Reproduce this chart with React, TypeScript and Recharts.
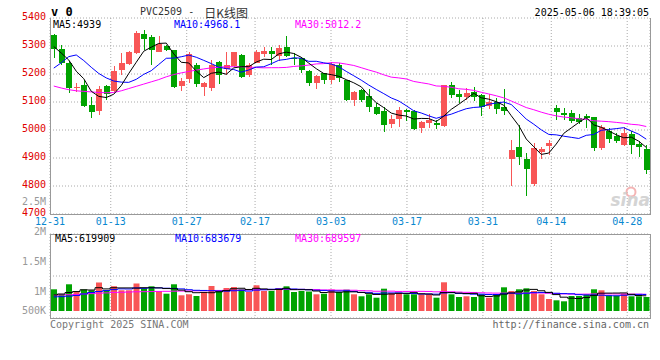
import React from 'react';
import { ComposedChart, Bar, Line, XAxis, YAxis, CartesianGrid, Cell } from 'recharts';

// daily candles, 12-31 .. 05-06 (80 sessions)
const open = [5340, 5289, 5239, 5150, 5161, 5089, 5069, 5157, 5141, 5215, 5235, 5275, 5344, 5332, 5280, 5301, 5286, 5157, 5182, 5233, 5155, 5149, 5242, 5217, 5227, 5268, 5197, 5241, 5271, 5283, 5265, 5298, 5258, 5257, 5212, 5167, 5203, 5179, 5233, 5179, 5107, 5143, 5122, 5081, 5068, 5021, 5039, 5071, 5068, 5008, 5026, 5026, 5014, 5161, 5129, 5119, 5137, 5125, 5086, 5101, 5081, 4898, 4940, 4898, 4806, 4922, 4942, 5078, 5062, 5060, 5042, 5050, 5045, 4934, 4997, 4979, 4946, 4985, 4950, 4932];
const high = [5342, 5304, 5245, 5169, 5179, 5117, 5157, 5159, 5227, 5275, 5283, 5352, 5358, 5340, 5334, 5305, 5287, 5185, 5277, 5241, 5170, 5251, 5245, 5277, 5280, 5270, 5240, 5285, 5298, 5298, 5304, 5337, 5275, 5262, 5215, 5196, 5205, 5242, 5240, 5180, 5140, 5145, 5146, 5097, 5081, 5053, 5081, 5074, 5070, 5032, 5056, 5036, 5162, 5173, 5143, 5149, 5155, 5128, 5129, 5113, 5147, 4966, 5018, 4918, 4952, 4940, 4966, 5089, 5078, 5071, 5056, 5057, 5047, 5018, 5006, 4988, 5011, 4996, 4961, 4946];
const low = [5257, 5233, 5133, 5137, 5081, 5044, 5053, 5107, 5137, 5197, 5233, 5272, 5286, 5233, 5279, 5283, 5149, 5141, 5167, 5155, 5122, 5140, 5164, 5197, 5225, 5185, 5190, 5238, 5260, 5233, 5245, 5262, 5233, 5205, 5157, 5147, 5165, 5165, 5172, 5102, 5086, 5101, 5065, 5053, 4994, 5006, 5011, 5033, 5000, 4988, 5008, 5002, 5009, 5113, 5097, 5107, 5105, 5050, 5074, 5056, 5053, 4800, 4874, 4764, 4800, 4898, 4912, 5036, 5036, 5024, 5020, 5006, 4925, 4930, 4952, 4954, 4944, 4916, 4904, 4842];
const close = [5289, 5239, 5149, 5153, 5086, 5065, 5147, 5129, 5212, 5241, 5280, 5348, 5326, 5284, 5308, 5286, 5155, 5176, 5272, 5163, 5169, 5233, 5197, 5233, 5277, 5191, 5233, 5280, 5283, 5271, 5292, 5265, 5255, 5215, 5167, 5193, 5179, 5235, 5185, 5107, 5137, 5107, 5081, 5057, 5018, 5039, 5071, 5065, 5003, 5029, 5036, 5018, 5161, 5125, 5119, 5133, 5117, 5081, 5101, 5074, 5069, 4930, 4904, 4862, 4936, 4932, 4954, 5065, 5053, 5033, 5029, 5042, 4934, 5011, 4967, 4961, 4988, 4946, 4938, 4856];

const ma5 = [5298, 5275, 5250, 5210, 5183.2, 5138.4, 5120, 5116, 5127.8, 5158.8, 5201.8, 5242, 5281.4, 5295.8, 5309.2, 5310.4, 5271.8, 5241.8, 5239.4, 5210.4, 5187, 5202.6, 5206.8, 5199, 5221.8, 5226.2, 5226.2, 5242.8, 5252.8, 5251.6, 5271.8, 5278.2, 5273.2, 5259.6, 5238.8, 5219, 5201.8, 5197.8, 5191.8, 5179.8, 5168.6, 5154.2, 5123.4, 5097.8, 5080, 5060.4, 5053.2, 5050, 5039.2, 5041.4, 5040.8, 5030.2, 5049.4, 5073.8, 5091.8, 5111.2, 5131, 5115, 5110.2, 5101.2, 5088.4, 5051, 5015.6, 4967.8, 4940.2, 4912.8, 4917.6, 4949.8, 4988, 5007.4, 5026.8, 5044.4, 5018.2, 5009.8, 4996.6, 4983, 4972.2, 4974.6, 4960, 4937.8];
const ma10 = [5221, 5240, 5262, 5268, 5248, 5224, 5202, 5186, 5175, 5171, 5170.1, 5181, 5198.7, 5211.8, 5234, 5256.1, 5256.9, 5261.6, 5267.6, 5259.8, 5248.7, 5237.2, 5224.3, 5219.2, 5216.1, 5206.6, 5214.4, 5224.8, 5225.9, 5236.7, 5249, 5252.2, 5258, 5256.2, 5245.2, 5245.4, 5240, 5235.5, 5225.7, 5209.3, 5193.8, 5178, 5160.6, 5144.8, 5129.9, 5114.5, 5103.7, 5086.7, 5068.5, 5060.7, 5050.6, 5041.7, 5049.7, 5056.5, 5066.6, 5076, 5080.6, 5082.2, 5092, 5096.5, 5099.8, 5091, 5065.3, 5039, 5020.7, 5000.6, 4984.3, 4982.7, 4977.9, 4973.8, 4969.8, 4981, 4984, 4998.9, 5002, 5004.9, 5008.3, 4996.4, 4984.9, 4967.2];
const ma30 = [5157, 5150, 5144, 5140, 5138, 5136, 5134, 5133, 5134, 5140, 5148, 5156, 5164, 5172, 5180, 5190, 5198, 5204, 5209, 5214, 5218, 5222, 5224, 5226, 5226, 5226, 5225, 5223, 5222, 5222.5, 5222.6, 5223.5, 5227, 5229.1, 5231.8, 5236, 5237.1, 5240.6, 5239.7, 5235.3, 5230.5, 5222.5, 5214.3, 5206.7, 5197.1, 5188.8, 5186, 5182.3, 5173.4, 5168.9, 5164.5, 5157.3, 5156.1, 5152.5, 5147.2, 5145.3, 5141.4, 5134.8, 5128.7, 5122.2, 5114.7, 5103.6, 5091.9, 5080.1, 5072.4, 5063.7, 5056.2, 5050.5, 5046.1, 5043.7, 5040.1, 5037.9, 5033, 5031.5, 5029.8, 5027.2, 5024.4, 5020.4, 5018.3, 5012.5];

// volume in thousands of lots
const volumeK = [893, 700, 1099, 782, 885, 852, 1173, 852, 1021, 852, 852, 1132, 934, 1016, 823, 712, 1099, 646, 687, 617, 782, 1029, 823, 946, 988, 893, 782, 1058, 823, 823, 946, 1016, 782, 823, 802, 687, 712, 877, 782, 877, 687, 605, 687, 547, 918, 741, 741, 687, 687, 687, 687, 547, 1181, 687, 576, 605, 576, 687, 547, 687, 975, 823, 893, 934, 823, 687, 494, 440, 399, 617, 617, 687, 893, 852, 630, 630, 712, 605, 605, 576];
const volMa5 = [660, 700, 760, 800, 871.8, 863.6, 958.2, 908.8, 956.6, 950, 950, 941.8, 958.2, 957.2, 951.4, 923.4, 916.8, 859.2, 793.4, 752.2, 766.2, 752.2, 787.6, 839.4, 913.6, 935.8, 886.4, 933.4, 908.8, 875.8, 886.4, 933.2, 878, 878, 873.8, 822, 761.2, 780.2, 772, 787, 787, 765.6, 727.6, 680.6, 688.8, 699.6, 726.8, 726.8, 754.8, 708.6, 697.8, 659, 757.8, 757.8, 735.6, 719.2, 725, 626.2, 598.2, 620.4, 694.4, 743.8, 785, 862.4, 889.6, 832, 766.2, 675.6, 568.6, 527.4, 513.4, 552, 642.6, 733.2, 735.8, 738.4, 743.4, 685.8, 636.4, 625.6];
const volMa10 = [580, 590, 610, 640, 700, 760, 800, 840, 880, 910.9, 906.8, 950, 933.5, 956.9, 950.7, 936.7, 929.3, 908.7, 875.3, 851.8, 844.8, 834.5, 823.4, 816.4, 832.9, 851, 819.3, 860.5, 874.1, 894.7, 911.1, 909.8, 905.7, 893.4, 874.8, 854.2, 847.2, 829.1, 825, 830.4, 804.5, 763.4, 753.9, 726.3, 737.9, 743.3, 746.2, 727.2, 717.7, 698.7, 698.7, 692.9, 742.3, 756.3, 722.1, 708.5, 692, 692, 678, 678, 706.8, 734.4, 705.6, 730.3, 755, 763.2, 755, 730.3, 715.5, 708.5, 672.7, 659.1, 659.1, 650.9, 631.6, 625.9, 647.7, 664.2, 684.8, 680.7];
const volMa30 = [650, 660, 670, 680, 700, 715, 730, 745, 760, 770, 780, 790, 795, 800, 805, 810, 815, 820, 825, 830, 835, 840, 845, 850, 855, 860, 865, 870, 878, 885.8, 887.6, 898.1, 887.5, 888.9, 886.1, 880.6, 865.3, 866.1, 858.1, 859, 853.5, 835.9, 827.7, 812, 815.2, 816.2, 804.2, 805.6, 805.6, 807.9, 804.8, 788.7, 800.6, 792, 778.3, 768.7, 761.8, 749.4, 740.2, 735.7, 736.7, 730.2, 733.9, 737.6, 738.3, 738.3, 731.1, 716.5, 703.7, 695.1, 692.7, 695.5, 702.3, 712.5, 702.9, 699.2, 698.2, 695.5, 692.8, 689.1];

// date axis: trading-day index of each labelled session
const dateTicks = [0, 8, 18, 27, 37, 47, 57, 66, 76];
const dateLabels = ['12-31', '01-13', '01-27', '02-17', '03-03', '03-17', '03-31', '04-14', '04-28'];
const priceTicks = [4700, 4800, 4900, 5000, 5100, 5200, 5300, 5400];
const volTicks = [500, 1000, 1500, 2000, 2500];
const volTickLabels = ['500K', '1M', '1.5M', '2M', '2.5M'];

const RED = '#f85656';
const GREEN = '#00a300';
const MONO = '"DejaVu Sans Mono", monospace';
const GRID = '#aaa';

const rows = open.map((o, i) => ({
  d: i,
  o,
  h: high[i],
  l: low[i],
  c: close[i],
  ma5: ma5[i],
  ma10: ma10[i],
  ma30: ma30[i],
  v: volumeK[i],
  vma5: volMa5[i],
  vma10: volMa10[i],
  vma30: volMa30[i],
}));

function Candle(props: any) {
  const { x, y, width, height, payload } = props;
  if (x == null || y == null) return null;
  const top = Math.min(y, y + height);
  const span = Math.abs(height);
  const { o, h, l, c } = payload;
  const toY = (v: number) => top + ((h - v) / (h - l)) * span;
  const color = c >= o ? RED : GREEN;
  const bTop = toY(Math.max(o, c));
  const bBot = toY(Math.min(o, c));
  const mid = Math.floor(x + width / 2);
  return (
    <g shapeRendering="crispEdges">
      <rect x={mid} y={top} width={1} height={span} fill={color} />
      <rect x={x} y={bTop} width={width} height={Math.max(1, bBot - bTop)} fill={color} />
    </g>
  );
}

function VolTick(props: any) {
  const { x, y, payload } = props;
  const i = volTicks.indexOf(payload.value);
  return (
    <text x={x} y={Math.min(y, 120)} textAnchor="end" dominantBaseline="central" fill="#999" fontSize={10} fontFamily={MONO}>
      {volTickLabels[i]}
    </text>
  );
}

export default function App() {
  return (
    <div style={{ position: 'absolute', left: 0, top: 0, width: 660, height: 360, background: '#fff' }}>
      <div style={{ position: 'absolute', left: 0, top: 0 }}>
        <ComposedChart width={660} height={232} data={rows} margin={{ top: 18, right: 10, bottom: 0, left: 0 }}>
          <CartesianGrid xAxisId="t" yAxisId="p" stroke={GRID} strokeDasharray="1 2" />
          <XAxis
            xAxisId="t"
            dataKey="d"
            type="number"
            domain={[0, 79]}
            allowDataOverflow
            ticks={dateTicks}
            interval={0}
            tickFormatter={(v) => dateLabels[dateTicks.indexOf(v)]}
            height={18}
            tickSize={0}
            tickMargin={4}
            axisLine={false}
            tick={{ fill: '#0a88d0', fontSize: 10, fontFamily: MONO }}
          />
          <XAxis xAxisId="k" dataKey="d" type="category" height={0} hide />
          <YAxis
            yAxisId="p"
            domain={[4700, 5400]}
            allowDataOverflow
            ticks={priceTicks}
            interval={0}
            width={50}
            tickSize={0}
            tickMargin={4}
            axisLine={false}
            tick={{ fill: '#e00000', fontSize: 10, fontFamily: MONO, dy: -1.5 }}
          />
          <Bar xAxisId="k" yAxisId="p" dataKey={(r: any) => [r.l, r.h]} barSize={6} shape={(p: any) => <Candle {...p} />} isAnimationActive={false} />
          <Line xAxisId="k" yAxisId="p" dataKey="ma30" stroke="#ff00ff" strokeWidth={1} dot={false} isAnimationActive={false} />
          <Line xAxisId="k" yAxisId="p" dataKey="ma10" stroke="#0000ff" strokeWidth={1} dot={false} isAnimationActive={false} />
          <Line xAxisId="k" yAxisId="p" dataKey="ma5" stroke="#000" strokeWidth={1} dot={false} isAnimationActive={false} />
        </ComposedChart>
      </div>

      <div style={{ position: 'absolute', left: 0, top: 190 }}>
        <ComposedChart width={660} height={150} data={rows} margin={{ top: 44, right: 10, bottom: 22, left: 0 }}>
          <CartesianGrid xAxisId="t" yAxisId="g" stroke={GRID} strokeDasharray="1 2" />
          <XAxis xAxisId="t" dataKey="d" type="number" domain={[0, 79]} allowDataOverflow ticks={dateTicks} interval={0} height={0} hide />
          <XAxis xAxisId="k" dataKey="d" type="category" height={0} hide />
          <YAxis
            yAxisId="lab"
            domain={[550, 1950]}
            allowDataOverflow
            ticks={volTicks}
            interval={0}
            width={50}
            tickSize={0}
            tickMargin={4}
            axisLine={false}
            tick={<VolTick />}
          />
          <YAxis yAxisId="vol" domain={[-288, 3168]} allowDataOverflow width={0} hide />
          <YAxis yAxisId="g" domain={[0, 4]} ticks={[0, 1, 2, 3, 4]} allowDataOverflow width={0} hide />
          <Bar xAxisId="k" yAxisId="vol" dataKey="v" barSize={6} isAnimationActive={false}>
            {rows.map((r) => (
              <Cell key={r.d} fill={r.c >= r.o ? RED : GREEN} />
            ))}
          </Bar>
          <Line xAxisId="k" yAxisId="vol" type="step" dataKey="vma30" stroke="#ff00ff" strokeWidth={1} dot={false} isAnimationActive={false} />
          <Line xAxisId="k" yAxisId="vol" type="step" dataKey="vma10" stroke="#0000ff" strokeWidth={1} dot={false} isAnimationActive={false} />
          <Line xAxisId="k" yAxisId="vol" type="step" dataKey="vma5" stroke="#000" strokeWidth={1} dot={false} isAnimationActive={false} />
        </ComposedChart>
      </div>

      <svg width={660} height={360} style={{ position: 'absolute', left: 0, top: 0, pointerEvents: 'none' }}>
        <g stroke="#999" strokeWidth={1} fill="none" shapeRendering="crispEdges">
          <path d="M50.5 18 V214.5 H650.5 V18" />
          <rect x={50.5} y={234.5} width={600} height={84} />
        </g>
        <g fontFamily={MONO} fontSize={10} dominantBaseline="central">
          <text x={51} y={12} fontSize={12} fontWeight="bold" fill="#000">v 0</text>
          <text x={140} y={11.5} fill="#333">
            PVC2509 -
            <tspan dx={10} fontSize={12} fontFamily={'"Noto Sans CJK SC", sans-serif'}>日K线图</tspan>
          </text>
          <text x={649} y={12} textAnchor="end" fill="#000">2025-05-06 18:39:05</text>

          <text x={53} y={24} fill="#000">MA5:4939</text>
          <text x={174} y={24} fill="#0000ff">MA10:4968.1</text>
          <text x={295} y={24} fill="#ff00ff">MA30:5012.2</text>

          <text x={55} y={238} fill="#000">MA5:619909</text>
          <text x={175} y={238} fill="#0000ff">MA10:683679</text>
          <text x={295} y={238} fill="#ff00ff">MA30:689597</text>

          <text x={50} y={324} fill="#777">Copyright 2025 SINA.COM</text>
          <text x={649} y={324} textAnchor="end" fill="#666">http://finance.sina.com.cn</text>
        </g>
        <circle cx={631} cy={192} r={4.5} fill="none" stroke="#f4b4b4" strokeWidth={2} />
        <text x={650} y={206} textAnchor="end" fontSize={17} fontStyle="italic" fontWeight="bold" fill="#d4d4d4" fontFamily="DejaVu Sans">
          sina
        </text>
      </svg>
    </div>
  );
}
